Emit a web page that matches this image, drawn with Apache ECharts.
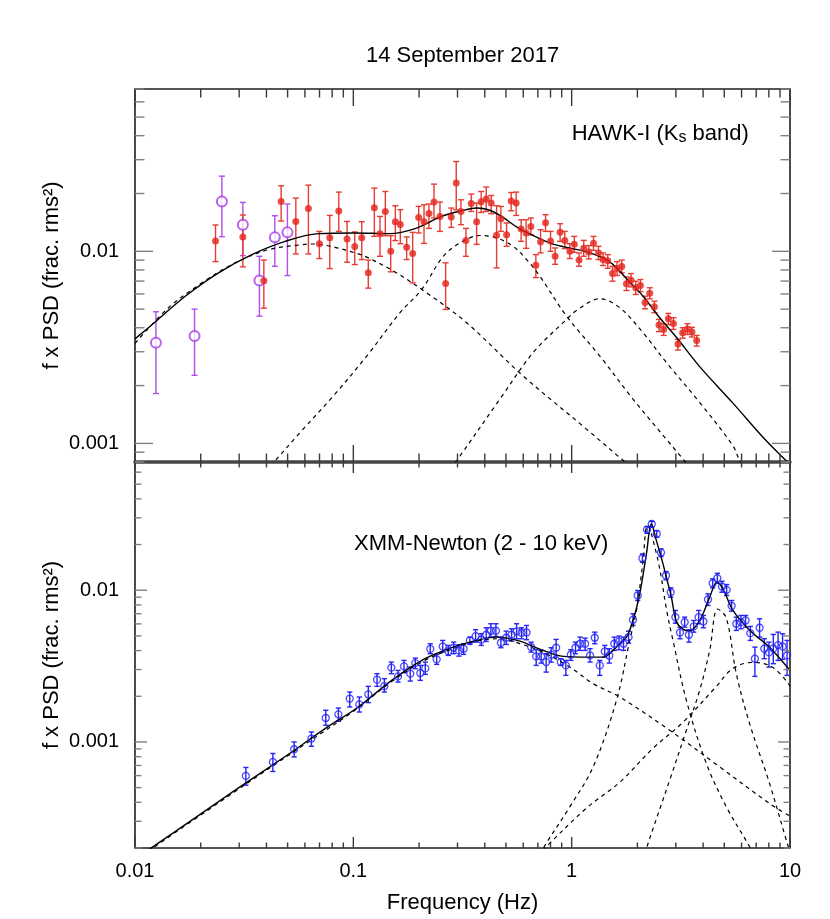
<!DOCTYPE html>
<html>
<head>
<meta charset="utf-8">
<script src="https://cdn.jsdelivr.net/npm/echarts@6/dist/echarts.min.js"></script>
<style>
  html, body { margin: 0; padding: 0; background: #fff; }
  #psd { width: 830px; height: 919px; }
</style>
</head>
<body>
<div id="psd"></div>
<script>
const fontFamily = '"Liberation Sans", Arial, Helvetica, sans-serif';

// ---- HAWK-I, early segment (open purple circles)
const hawkOpenFreq = [0.01247, 0.01874, 0.0250, 0.03119, 0.03715, 0.04370, 0.0499];
const hawkOpenPsd = [0.003345, 0.003621, 0.01818, 0.01376, 0.007045, 0.01182, 0.01255];
const hawkOpenLo = [0.001818, 0.002262, 0.01192, 0.0095, 0.004597, 0.008357, 0.00748];
const hawkOpenHi = [0.004846, 0.0050, 0.02463, 0.01797, 0.00942, 0.01532, 0.01763];

// ---- HAWK-I, Ks band (filled red dots)
const hawkFreq = [
  0.02338, 0.03119, 0.03892, 0.04670, 0.05453, 0.06226, 0.06990, 0.0780, 0.08578, 0.0936,
  0.1015, 0.1093, 0.1171, 0.1248, 0.1325, 0.1401, 0.1483, 0.1557, 0.1641, 0.1755,
  0.1870, 0.1992, 0.2107, 0.2220, 0.2341, 0.2493, 0.2647, 0.2808, 0.2960, 0.3110,
  0.3279, 0.3467, 0.3670, 0.3852, 0.4061, 0.4280, 0.4531, 0.4741, 0.5034, 0.5284,
  0.5569, 0.5870, 0.6188, 0.6503, 0.6855, 0.7202, 0.7592, 0.8003, 0.8400, 0.8853,
  0.9302, 0.9806, 1.028, 1.081, 1.136, 1.198, 1.259, 1.327, 1.392, 1.463,
  1.538, 1.614, 1.696, 1.782, 1.870, 1.966, 2.065, 2.168, 2.278, 2.393,
  2.512, 2.639, 2.773, 2.923, 3.068, 3.224, 3.388, 3.556, 3.737
];
const hawkPsd = [
  0.01132, 0.01188, 0.007018, 0.01818, 0.01431, 0.01672, 0.01096, 0.01178, 0.01621, 0.01160,
  0.01058, 0.01178, 0.00773, 0.01686, 0.01236, 0.01613, 0.0100, 0.01426, 0.01381, 0.01049,
  0.00973, 0.01502, 0.01426, 0.01575, 0.01805, 0.01519, 0.0068, 0.01509, 0.02265, 0.01613,
  0.01137, 0.01775, 0.01426, 0.01811, 0.01871, 0.01784, 0.01211, 0.01479, 0.01221, 0.01826,
  0.01784, 0.01307, 0.01246, 0.01348, 0.00846, 0.01123, 0.01409, 0.01132, 0.00942, 0.01255,
  0.0114, 0.01002, 0.0109, 0.0090, 0.01039, 0.00993, 0.0110, 0.00981, 0.00906, 0.00892,
  0.00766, 0.00813, 0.00833, 0.00677, 0.00707, 0.00646, 0.00664, 0.00542, 0.00605, 0.00514,
  0.00413, 0.00392, 0.00446, 0.00421, 0.00329, 0.00377, 0.00394, 0.0038, 0.00343
];
const hawkLo = [
  0.00884, 0.00830, 0.005058, 0.01438, 0.00969, 0.00969, 0.00917, 0.00813, 0.0127, 0.00877,
  0.00853, 0.00906, 0.00643, 0.01196, 0.00942, 0.01206, 0.00782, 0.01137, 0.01096, 0.00906,
  0.00685, 0.01246, 0.0110, 0.01316, 0.01491, 0.0127, 0.00498, 0.01332, 0.01646, 0.01376,
  0.00942, 0.01613, 0.01087, 0.01594, 0.01613, 0.01569, 0.0082, 0.0127, 0.01062, 0.01627,
  0.01538, 0.01127, 0.01036, 0.01217, 0.0073, 0.00981, 0.0127, 0.0100, 0.00856, 0.01127,
  0.01033, 0.00917, 0.00988, 0.00836, 0.00942, 0.00913, 0.01012, 0.00906, 0.00843, 0.00816,
  0.00699, 0.00748, 0.00773, 0.00625, 0.00653, 0.00596, 0.00616, 0.00502, 0.00566, 0.00479,
  0.00382, 0.00365, 0.00415, 0.00392, 0.00306, 0.00353, 0.00369, 0.00358, 0.00321
];
const hawkHi = [
  0.01371, 0.01545, 0.0090, 0.02193, 0.01893, 0.02211, 0.0127, 0.01538, 0.02034, 0.01431,
  0.01261, 0.01426, 0.0090, 0.02134, 0.01519, 0.02049, 0.01206, 0.01727, 0.01646, 0.01188,
  0.01255, 0.01713, 0.01748, 0.01763, 0.02238, 0.01805, 0.00871, 0.0168, 0.02933, 0.01855,
  0.01316, 0.01986, 0.01784, 0.02049, 0.0216, 0.01953, 0.01727, 0.01713, 0.01404, 0.02024,
  0.02034, 0.0146, 0.0146, 0.01491, 0.00961, 0.01296, 0.01551, 0.0127, 0.01041, 0.01392,
  0.0127, 0.01096, 0.01196, 0.00981, 0.0114, 0.01071, 0.01196, 0.01062, 0.00981, 0.00961,
  0.00836, 0.00884, 0.0090, 0.00736, 0.00766, 0.00699, 0.00713, 0.00584, 0.00646, 0.0055,
  0.00442, 0.0042, 0.00475, 0.00451, 0.00348, 0.0040, 0.0042, 0.00402, 0.00365
];

// ---- HAWK-I model: total and three Lorentzians
const hawkModelFreq = [0.01, 0.01261, 0.01699, 0.02413, 0.0343, 0.04871, 0.06918, 0.1, 0.1472, 0.1916,
  0.2539, 0.3133, 0.3681, 0.4147, 0.4775, 0.5689, 0.7025, 0.8375, 1.148, 1.392,
  1.548, 1.782, 2.123, 2.531, 3.017, 3.857, 5.478, 7.788, 9.616, 10];
const hawkModelPsd = [0.003501, 0.004367, 0.00584, 0.00773, 0.00961, 0.01127, 0.01236, 0.01246, 0.01236, 0.01312,
  0.01519, 0.01627, 0.0168, 0.01646, 0.01519, 0.01323, 0.01174, 0.01083, 0.0100, 0.00924,
  0.00853, 0.00722, 0.00584, 0.00451, 0.00357, 0.00251, 0.00162, 0.001031, 0.000812, 0.00078];
const hawkLorA_Freq = [0.01, 0.01424, 0.02025, 0.02876, 0.04085, 0.05808, 0.06563, 0.08246, 0.1018, 0.1131,
  0.1524, 0.2167, 0.3303, 0.5995, 1.169, 1.69, 2.05];
const hawkLorA_Psd = [0.003318, 0.005083, 0.006853, 0.008705, 0.0102, 0.01083, 0.01092, 0.01049, 0.00981, 0.00942,
  0.0079, 0.00608, 0.004247, 0.002244, 0.001187, 0.000829, 0.000687];
const hawkLorB_Freq = [0.03946, 0.04384, 0.05705, 0.081, 0.1152, 0.1636, 0.2056, 0.2582, 0.3077, 0.3799,
  0.4531, 0.5395, 0.6214, 0.7149, 0.9471, 1.345, 1.91, 3.234, 3.47];
const hawkLorB_Psd = [0.00071, 0.000812, 0.00114, 0.001767, 0.00285, 0.00479, 0.006327, 0.00942, 0.01105, 0.01209,
  0.01174, 0.01062, 0.00906, 0.00742, 0.0046, 0.00285, 0.0017, 0.000829, 0.000753];
const hawkLorC_Freq = [0.2769, 0.2972, 0.4691, 0.666, 0.9471, 1.052, 1.345, 1.661, 2.123, 2.716,
  3.857, 5.478, 5.876, 6.194];
const hawkLorC_Psd = [0.000735, 0.000812, 0.0017, 0.002969, 0.00442, 0.00492, 0.00566, 0.005083, 0.00377, 0.002634,
  0.001633, 0.000972, 0.000812, 0.000735];

// ---- XMM-Newton 2-10 keV (open blue circles)
const xmmFreq = [
  0.03219, 0.0428, 0.05356, 0.06428, 0.07478, 0.08542, 0.0963, 0.1065, 0.1171, 0.1284,
  0.1387, 0.1493, 0.1602, 0.1706, 0.1823, 0.1922, 0.2026, 0.2136, 0.2251, 0.2408,
  0.2566, 0.2721, 0.288, 0.3046, 0.32, 0.342, 0.3631, 0.3852, 0.4061, 0.4266,
  0.4498, 0.4741, 0.5013, 0.5306, 0.5594, 0.5895, 0.6214, 0.6524, 0.6877, 0.7248,
  0.7641, 0.8054, 0.8488, 0.8918, 0.9402, 0.991, 1.041, 1.093, 1.152, 1.214,
  1.276, 1.345, 1.418, 1.487, 1.567, 1.647, 1.728, 1.822, 1.91, 2.007,
  2.109, 2.214, 2.327, 2.452, 2.566, 2.704, 2.842, 2.986, 3.134, 3.293,
  3.445, 3.622, 3.817, 4.011, 4.21, 4.424, 4.648, 4.879, 5.127, 5.402,
  5.677, 5.958, 6.26, 6.58, 6.906, 7.256, 7.625, 8.009, 8.385, 8.819,
  9.247, 9.696
];
const xmmPsd = [
  0.000597, 0.000738, 0.000895, 0.001053, 0.001438, 0.001521, 0.00193, 0.00177, 0.00206, 0.002573,
  0.002336, 0.003087, 0.002705, 0.003148, 0.002818, 0.003309, 0.002844, 0.003054, 0.004104, 0.003501,
  0.004262, 0.003969, 0.004178, 0.004011, 0.004116, 0.004668, 0.004983, 0.004718, 0.005088, 0.005407,
  0.005407, 0.004507, 0.004861, 0.005088, 0.005349, 0.005244, 0.005268, 0.004217, 0.003663, 0.003663,
  0.00336, 0.003758, 0.004178, 0.00336, 0.003196, 0.003758, 0.004178, 0.004439, 0.004439, 0.003719,
  0.004861, 0.003196, 0.003951, 0.003702, 0.004439, 0.004597, 0.004439, 0.004906, 0.006386, 0.009228,
  0.01624, 0.02508, 0.02734, 0.0235, 0.0177, 0.0125, 0.0097, 0.006645, 0.005268, 0.006158,
  0.005088, 0.005772, 0.006645, 0.006223, 0.008687, 0.01112, 0.01199, 0.01058, 0.01006, 0.007897,
  0.006012, 0.006158, 0.006319, 0.005213, 0.003537, 0.005658, 0.004116, 0.003891, 0.004134, 0.004346,
  0.004262, 0.003719
];
const xmmLo = [
  0.000519, 0.000639, 0.000797, 0.000937, 0.001288, 0.001368, 0.0017, 0.001575, 0.001816, 0.002325,
  0.002133, 0.002818, 0.002481, 0.002861, 0.00252, 0.00304, 0.002546, 0.002788, 0.003817, 0.003245,
  0.003909, 0.003719, 0.003817, 0.003679, 0.003776, 0.004393, 0.004548, 0.004327, 0.004597, 0.004906,
  0.00496, 0.004178, 0.004393, 0.004618, 0.004789, 0.004789, 0.004718, 0.003909, 0.003196, 0.003309,
  0.002887, 0.00336, 0.003624, 0.003196, 0.002747, 0.003447, 0.003817, 0.004011, 0.004011, 0.00336,
  0.004439, 0.002747, 0.003624, 0.003309, 0.004011, 0.004054, 0.004011, 0.004478, 0.005859, 0.008556,
  0.01528, 0.02371, 0.02597, 0.02233, 0.01666, 0.01171, 0.00899, 0.006066, 0.004789, 0.00571,
  0.004548, 0.005292, 0.006012, 0.005658, 0.007931, 0.01037, 0.01112, 0.0097, 0.009228, 0.007276,
  0.005431, 0.005572, 0.00571, 0.004668, 0.002705, 0.004906, 0.003537, 0.003115, 0.003279, 0.003447,
  0.003501, 0.002747
];
const xmmHi = [
  0.000679, 0.000839, 0.001, 0.001164, 0.001617, 0.001674, 0.002133, 0.001977, 0.002325, 0.002818,
  0.002613, 0.00336, 0.002962, 0.003447, 0.003115, 0.00357, 0.003196, 0.00336, 0.004439, 0.003776,
  0.004668, 0.004327, 0.004548, 0.004373, 0.004439, 0.004906, 0.005489, 0.005166, 0.005658, 0.006012,
  0.006012, 0.004906, 0.005374, 0.005572, 0.006012, 0.005658, 0.005859, 0.004548, 0.004054, 0.004011,
  0.003817, 0.004178, 0.00474, 0.003537, 0.003447, 0.004054, 0.004548, 0.004906, 0.004832, 0.004116,
  0.005292, 0.003447, 0.004327, 0.004116, 0.004906, 0.004983, 0.004906, 0.005374, 0.006995, 0.009954,
  0.01736, 0.02625, 0.02844, 0.0247, 0.01872, 0.01327, 0.01037, 0.007354, 0.00571, 0.006645,
  0.005489, 0.006319, 0.007354, 0.006817, 0.009469, 0.01189, 0.01294, 0.01146, 0.0109, 0.008556,
  0.006645, 0.006817, 0.006817, 0.005772, 0.004217, 0.006484, 0.004789, 0.004548, 0.005112, 0.005292,
  0.005166, 0.004668
];

// ---- XMM-Newton model: total, broad component, two QPOs, high-frequency bump
const xmmModelFreq = [0.01, 0.01216, 0.02876, 0.05227, 0.07423, 0.1054, 0.1499, 0.2128, 0.2868, 0.342,
  0.4531, 0.5789, 0.7402, 0.9139, 1.169, 1.392, 1.548, 1.661, 1.782, 1.91,
  2.05, 2.2, 2.318, 2.444, 2.62, 2.716, 2.863, 3.017, 3.234, 3.47,
  3.857, 4.287, 4.628, 4.93, 5.478, 6.55, 8.1, 10];
const xmmModelPsd = [0.000171, 0.000205, 0.000481, 0.000859, 0.001225, 0.0017, 0.002546, 0.003537, 0.004217, 0.004548,
  0.004906, 0.004618, 0.004011, 0.003663, 0.003624, 0.003624, 0.004011, 0.004439, 0.004906, 0.006319,
  0.009469, 0.01736, 0.02734, 0.02123, 0.01492, 0.01212, 0.00899, 0.006223, 0.005538, 0.005391,
  0.006319, 0.00899, 0.01129, 0.01021, 0.007354, 0.00543, 0.00418, 0.00296];
const xmmBroadFreq = [0.01, 0.03206, 0.06407, 0.1, 0.1499, 0.2128, 0.2868, 0.3681, 0.4691, 0.5789,
  0.7402, 0.9806, 1.254, 1.661, 2.812, 4.761, 8.063, 10];
const xmmBroadPsd = [0.000166, 0.000525, 0.00103, 0.00159, 0.0025, 0.00345, 0.00412, 0.00462, 0.004789, 0.00445,
  0.0039, 0.003115, 0.002422, 0.001977, 0.001194, 0.000685, 0.000393, 0.000324];
const xmmQpo1Freq = [0.6927, 0.7402, 0.9806, 1.254, 1.604, 1.845, 1.981, 2.123, 2.223, 2.486,
  2.724, 2.911, 3.353, 4.139, 5.11, 6.531, 6.958];
const xmmQpo1Psd = [0.0001616, 0.000199, 0.0003736, 0.000685, 0.00188, 0.004668, 0.007354, 0.01568, 0.02665, 0.01568,
  0.007354, 0.004668, 0.00188, 0.000721, 0.0003736, 0.0002038, 0.0001666];
const xmmQpo2Freq = [2.116, 2.2, 2.812, 3.353, 3.857, 4.287, 4.662, 5.11, 5.677, 6.531, 8.063, 9.614, 10];
const xmmQpo2Psd = [0.0001616, 0.000199, 0.00056, 0.001194, 0.002188, 0.004011, 0.007519, 0.006565, 0.002818, 0.001321,
  0.000532, 0.0002256, 0.000188];
const xmmBumpFreq = [0.6927, 0.7536, 1.169, 1.661, 2.358, 3.234, 4.6, 5.478, 6.761, 8.35, 10];
const xmmBumpPsd = [0.000177, 0.0002, 0.0003663, 0.000543, 0.000909, 0.001348, 0.002325, 0.003054, 0.003345, 0.0031, 0.002343];

// ---- axes
const freqRange = [0.01, 10];
const psdRange = [[0.0008, 0.07], [0.0002, 0.07]];
const tickMultipliers = [1, 2, 3, 4, 5, 6, 7, 8, 9];
const tickLen = [{ major: 17, minor: 8.5 }, { major: 11, minor: 5.5 }];

function decadeLabel(v) {
  const e = Math.log10(v);
  if (Math.abs(e - Math.round(e)) > 1e-6) return '';
  return String(Number(v.toPrecision(1)));
}

function logTicks(lo, hi) {
  const out = [];
  for (let e = Math.floor(Math.log10(lo)); e <= Math.ceil(Math.log10(hi)); e++) {
    tickMultipliers.forEach(function (m) {
      const v = m * Math.pow(10, e);
      if (v >= lo * 0.999 && v <= hi * 1.001) out.push([v, m === 1 ? 1 : 0]);
    });
  }
  return out;
}

function xTicks(idx) {
  const ref = psdRange[idx][0] * 2;
  return {
    type: 'custom', xAxisIndex: idx, yAxisIndex: idx, silent: true, z: 6,
    data: logTicks(freqRange[0], freqRange[1]).map(t => [t[0], ref, t[1]]),
    encode: { x: 0, y: 1 },
    renderItem: function (params, api) {
      const cs = params.coordSys;
      const px = api.coord([api.value(0), api.value(1)])[0];
      const len = api.value(2) ? tickLen[idx].major : tickLen[idx].minor;
      const st = { stroke: '#3a3a3a', lineWidth: 1.4 };
      return { type: 'group', children: [
        { type: 'line', shape: { x1: px, y1: cs.y, x2: px, y2: cs.y + len }, style: st },
        { type: 'line', shape: { x1: px, y1: cs.y + cs.height, x2: px, y2: cs.y + cs.height - len }, style: st }
      ] };
    }
  };
}

function yTicks(idx) {
  return {
    type: 'custom', xAxisIndex: idx, yAxisIndex: idx, silent: true, z: 6,
    data: logTicks(psdRange[idx][0], psdRange[idx][1]).map(t => [0.05, t[0], t[1]]),
    encode: { x: 0, y: 1 },
    renderItem: function (params, api) {
      const cs = params.coordSys;
      const py = api.coord([api.value(0), api.value(1)])[1];
      const len = (api.value(2) ? tickLen[idx].major : tickLen[idx].minor) + 1;
      const st = { stroke: '#808080', lineWidth: 1.4 };
      return { type: 'group', children: [
        { type: 'line', shape: { x1: cs.x, y1: py, x2: cs.x + len, y2: py }, style: st },
        { type: 'line', shape: { x1: cs.x + cs.width, y1: py, x2: cs.x + cs.width - len, y2: py }, style: st }
      ] };
    }
  };
}

function errorBars(idx, freq, lo, hi, color, cap) {
  return {
    type: 'custom', xAxisIndex: idx, yAxisIndex: idx, silent: true, clip: true, z: 2,
    data: freq.map((f, i) => [f, lo[i], hi[i]]),
    encode: { x: 0, y: [1, 2] },
    renderItem: function (params, api) {
      const a = api.coord([api.value(0), api.value(1)]);
      const b = api.coord([api.value(0), api.value(2)]);
      const st = { stroke: color, lineWidth: 1.4 };
      return { type: 'group', children: [
        { type: 'line', shape: { x1: a[0], y1: a[1], x2: b[0], y2: b[1] }, style: st },
        { type: 'line', shape: { x1: a[0] - cap, y1: a[1], x2: a[0] + cap, y2: a[1] }, style: st },
        { type: 'line', shape: { x1: b[0] - cap, y1: b[1], x2: b[0] + cap, y2: b[1] }, style: st }
      ] };
    }
  };
}

function points(idx, freq, psd, symbol, size, itemStyle) {
  return {
    type: 'scatter', xAxisIndex: idx, yAxisIndex: idx, silent: true, z: 4,
    data: freq.map((f, i) => [f, psd[i]]),
    symbol: symbol, symbolSize: size, itemStyle: itemStyle
  };
}

function curve(idx, freq, psd, dashed) {
  return {
    type: 'line', xAxisIndex: idx, yAxisIndex: idx, silent: true, z: 3,
    data: freq.map((f, i) => [f, psd[i]]),
    showSymbol: false, symbol: 'none', smooth: 0.35, clip: true,
    lineStyle: { color: '#000', width: dashed ? 1.2 : 1.4, type: dashed ? [4, 4] : 'solid' }
  };
}

function yAxis(idx) {
  return {
    gridIndex: idx, type: 'log', logBase: 10, min: psdRange[idx][0], max: psdRange[idx][1],
    name: 'f x PSD (frac. rms²)', nameLocation: 'middle', nameGap: 72, nameRotate: 90,
    nameMoveOverlap: false,
    nameTextStyle: { fontSize: 22, fontFamily: fontFamily, color: '#000' },
    axisLine: { show: false }, axisTick: { show: false }, splitLine: { show: false },
    axisLabel: { fontSize: 20, fontFamily: fontFamily, color: '#000', margin: 16, formatter: decadeLabel,
      showMinLabel: true, showMaxLabel: true }
  };
}

const gridStyle = { show: true, borderColor: '#1e1e1e', borderWidth: 1.6, backgroundColor: 'transparent',
  containLabel: false, outerBoundsMode: 'none' };

const chart = echarts.init(document.getElementById('psd'), null, { renderer: 'canvas' });
chart.setOption({
  backgroundColor: '#fff',
  animation: false,
  textStyle: { fontFamily: fontFamily },
  grid: [
    Object.assign({ left: 135, width: 655, top: 89, height: 373 }, gridStyle),
    Object.assign({ left: 135, width: 655, top: 462, height: 386 }, gridStyle)
  ],
  xAxis: [
    { gridIndex: 0, type: 'log', logBase: 10, min: freqRange[0], max: freqRange[1],
      axisLine: { show: true, lineStyle: { color: '#454545', width: 3.5 } },
      axisTick: { show: false }, axisLabel: { show: false }, splitLine: { show: false } },
    { gridIndex: 1, type: 'log', logBase: 10, min: freqRange[0], max: freqRange[1],
      name: 'Frequency (Hz)', nameLocation: 'middle', nameGap: 44, nameMoveOverlap: false,
      nameTextStyle: { fontSize: 22, fontFamily: fontFamily, color: '#000' },
      axisLine: { show: false }, axisTick: { show: false }, splitLine: { show: false },
      axisLabel: { fontSize: 20, fontFamily: fontFamily, color: '#000', margin: 13, formatter: decadeLabel } }
  ],
  yAxis: [yAxis(0), yAxis(1)],
  graphic: [
    { type: 'text', x: 462.6, y: 56, silent: true,
      style: { text: '14 September 2017', fontSize: 22, fontFamily: fontFamily, fill: '#000',
        align: 'center', verticalAlign: 'middle' } },
    { type: 'text', x: 571.7, y: 134.4, silent: true,
      style: { text: 'HAWK-I (K{s|s} band)', fontSize: 22, fontFamily: fontFamily, fill: '#000', lineHeight: 22,
        align: 'left', verticalAlign: 'middle',
        rich: { s: { fontSize: 16, fontFamily: fontFamily, lineHeight: 8, verticalAlign: 'bottom' } } } },
    { type: 'text', x: 354, y: 544.4, silent: true,
      style: { text: 'XMM-Newton (2 - 10 keV)', fontSize: 22, fontFamily: fontFamily, fill: '#000',
        align: 'left', verticalAlign: 'middle' } }
  ],
  series: [
    xTicks(0), yTicks(0), xTicks(1), yTicks(1),

    errorBars(0, hawkOpenFreq, hawkOpenLo, hawkOpenHi, '#b04ee8', 3),
    errorBars(0, hawkFreq, hawkLo, hawkHi, '#e63c31', 3),
    curve(0, hawkModelFreq, hawkModelPsd, false),
    curve(0, hawkLorA_Freq, hawkLorA_Psd, true),
    curve(0, hawkLorB_Freq, hawkLorB_Psd, true),
    curve(0, hawkLorC_Freq, hawkLorC_Psd, true),
    points(0, hawkOpenFreq, hawkOpenPsd, 'emptyCircle', 10, { color: '#a93ce6', borderColor: '#a93ce6', borderWidth: 1.3 }),
    points(0, hawkFreq, hawkPsd, 'circle', 7, { color: '#e3231c' }),

    errorBars(1, xmmFreq, xmmLo, xmmHi, '#2424f4', 2.6),
    curve(1, xmmModelFreq, xmmModelPsd, false),
    curve(1, xmmBroadFreq, xmmBroadPsd, true),
    curve(1, xmmQpo1Freq, xmmQpo1Psd, true),
    curve(1, xmmQpo2Freq, xmmQpo2Psd, true),
    curve(1, xmmBumpFreq, xmmBumpPsd, true),
    points(1, xmmFreq, xmmPsd, 'circle', 7, { color: 'rgba(0,0,0,0)', borderColor: '#2222f6', borderWidth: 1.3 })
  ]
});
</script>
</body>
</html>
